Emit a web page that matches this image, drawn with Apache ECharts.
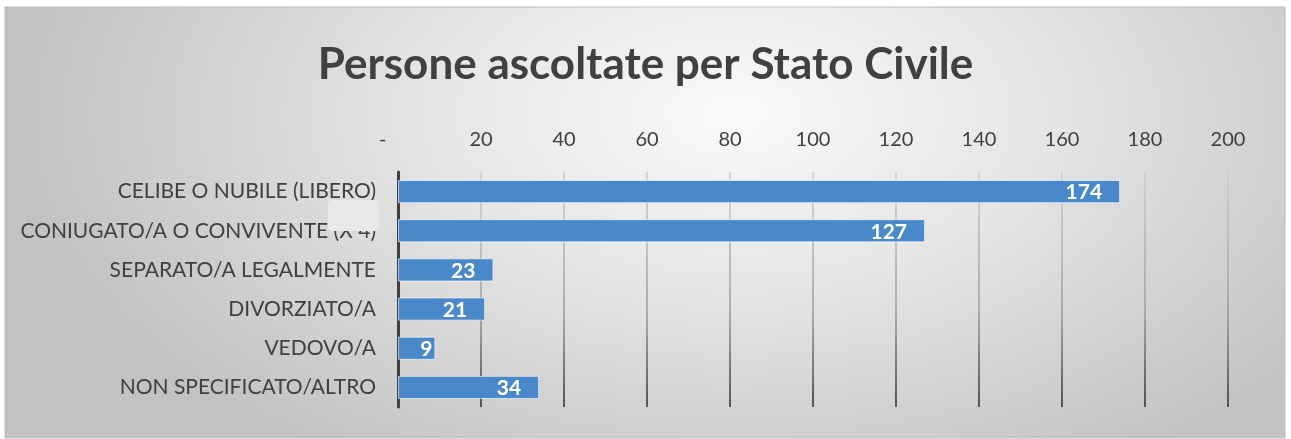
<!DOCTYPE html>
<html><head><meta charset="utf-8">
<script src="https://cdn.jsdelivr.net/npm/echarts@6/dist/echarts.min.js"></script>
<style>html,body{margin:0;padding:0;background:#fff;}#c{width:1291px;height:439px;}</style>
</head><body><div id="c"></div>
<script>
const title = 'Persone ascoltate per Stato Civile';
const categories = ['CELIBE O NUBILE (LIBERO)','CONIUGATO/A O CONVIVENTE (X 4)','SEPARATO/A LEGALMENTE','DIVORZIATO/A','VEDOVO/A','NON SPECIFICATO/ALTRO'];
const values = [174, 127, 23, 21, 9, 34];
const axisMin = 0, axisMax = 200, axisStep = 20;

const chart = echarts.init(document.getElementById('c'), null, {renderer:'canvas'});
const font = 'Lato, "Open Sans", sans-serif';
const sx = 1.75;
const barData = values.map(v => v < 15 ? {value:v, label:{offset:[2,1]}} : v);
chart.setOption({
  animation:false,
  backgroundColor:'transparent',
  graphic:[
    {type:'rect', z:-10, silent:true, x:5, y:7, scaleX:sx, shape:{x:0,y:0,width:1280/sx,height:431},
     style:{fill:{type:'radial',x:0.57,y:0.25,r:0.95,colorStops:[{offset:0,color:'#fafafa'},{offset:0.45,color:'#e4e4e4'},{offset:1,color:'#c2c2c2'}]}}},
    {type:'rect', z:-9, silent:true, shape:{x:5,y:7,width:1280,height:431}, style:{fill:'none', stroke:'#bdbdbd', lineWidth:1}},
    {type:'rect', z:100, zlevel:1, silent:true, shape:{x:328,y:200,width:51,height:31,r:4}, style:{fill:'#e9e9e9'}}
  ],
  title:{text:title,left:'center',top:38,textStyle:{fontFamily:font,fontWeight:'bold',fontSize:44,color:'#404040'}},
  grid:{left:398,right:63,top:172,bottom:32},
  xAxis:{type:'value',position:'top',min:axisMin,max:axisMax,interval:axisStep,
    axisLine:{show:false},axisTick:{show:false},
    axisLabel:{fontFamily:font,fontSize:20,color:'#404040',margin:22,formatter:v=>v===0?'-      ':String(v)},
    splitLine:{show:true,lineStyle:{width:1.5,color:{type:'linear',global:true,x:0,y:172,x2:0,y2:407,colorStops:[{offset:0,color:'#cdcdcd'},{offset:0.6,color:'#9a9a9a'},{offset:1,color:'#2a2a2a'}]}}}},
  yAxis:{type:'category',inverse:true,data:categories,
    axisLine:{show:true,lineStyle:{color:'#404040',width:3}},axisTick:{show:false},
    axisLabel:{fontFamily:font,fontSize:21,color:'#404040',margin:22}},
  series:[{type:'bar',data:barData,barCategoryGap:'41%',
    itemStyle:{color:'#4a89c9',borderColor:'rgba(255,255,255,0.6)',borderWidth:1},
    label:{show:true,position:'insideRight',offset:[-13,1],color:'#fff',fontFamily:font,fontWeight:'bold',fontSize:21}}]
});
</script></body></html>
